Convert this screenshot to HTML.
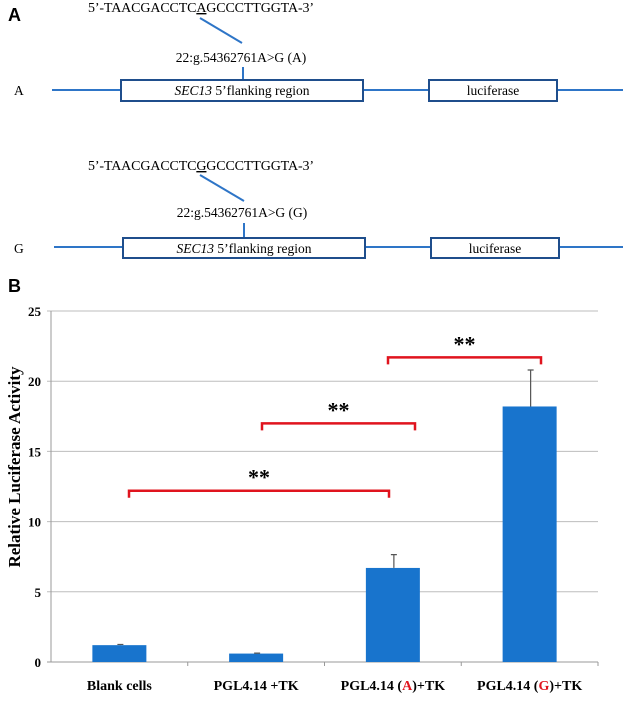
<!DOCTYPE html>
<html><head><meta charset="utf-8"><style>
body{margin:0;background:#fff;}
svg{display:block;font-family:"Liberation Serif",serif;}
</style></head><body>
<svg width="625" height="702" viewBox="0 0 625 702">
<g>
<text x="8" y="21" font-family="Liberation Sans,sans-serif" font-weight="bold" font-size="18">A</text>
<text x="88" y="12" font-size="14" textLength="226">5’-TAACGACCTC<tspan text-decoration="underline">A</tspan>GCCCTTGGTA-3’</text>
<line x1="200" y1="18" x2="242" y2="43" stroke="#2e75c7" stroke-width="2"/>
<text x="241" y="62" font-size="13.5" text-anchor="middle">22:g.54362761A&gt;G (A)</text>
<line x1="243" y1="67" x2="243" y2="80" stroke="#2e75c7" stroke-width="2"/>
<line x1="52" y1="90" x2="623" y2="90" stroke="#2e75c7" stroke-width="2"/>
<rect x="121" y="80" width="242" height="21" fill="#fff" stroke="#1f4e8c" stroke-width="2"/>
<text x="242" y="95" font-size="13.5" text-anchor="middle"><tspan font-style="italic">SEC13</tspan> 5’flanking region</text>
<rect x="429" y="80" width="128" height="21" fill="#fff" stroke="#1f4e8c" stroke-width="2"/>
<text x="493" y="95" font-size="13.5" text-anchor="middle">luciferase</text>
<text x="14" y="95" font-size="13.5">A</text>

<text x="88" y="170" font-size="14" textLength="226">5’-TAACGACCTC<tspan text-decoration="underline">G</tspan>GCCCTTGGTA-3’</text>
<line x1="200" y1="175" x2="244" y2="201" stroke="#2e75c7" stroke-width="2"/>
<text x="242" y="217" font-size="13.5" text-anchor="middle">22:g.54362761A&gt;G (G)</text>
<line x1="244" y1="223" x2="244" y2="238" stroke="#2e75c7" stroke-width="2"/>
<line x1="54" y1="247" x2="623" y2="247" stroke="#2e75c7" stroke-width="2"/>
<rect x="123" y="238" width="242" height="20" fill="#fff" stroke="#1f4e8c" stroke-width="2"/>
<text x="244" y="253" font-size="13.5" text-anchor="middle"><tspan font-style="italic">SEC13</tspan> 5’flanking region</text>
<rect x="431" y="238" width="128" height="20" fill="#fff" stroke="#1f4e8c" stroke-width="2"/>
<text x="495" y="253" font-size="13.5" text-anchor="middle">luciferase</text>
<text x="14" y="253" font-size="13.5">G</text>
</g>
<text x="8" y="292" font-family="Liberation Sans,sans-serif" font-weight="bold" font-size="18">B</text>
<g id="chart"></g>
</svg>
<script>
const categories=["Blank cells","PGL4.14 +TK","PGL4.14 (A)+TK","PGL4.14 (G)+TK"];
const values=[1.2,0.6,6.7,18.2];
const errors=[0.05,0.03,0.95,2.6];
const yTicks=[0,5,10,15,20,25];
const brackets=[[0,2,11.7,12.2],[1,2,16.5,17],[2,3,21.2,21.7]];
const NS="http://www.w3.org/2000/svg";
const g=document.getElementById('chart');
const X0=51,X1=598,Y0=662,Y25=311;
const y=v=>Y0-(Y0-Y25)*v/25;
const bw=(X1-X0)/categories.length;
const xc=i=>X0+bw*(i+0.5);
function mk(t,a){const e=document.createElementNS(NS,t);for(const k in a)e.setAttribute(k,a[k]);g.appendChild(e);return e;}
yTicks.forEach(t=>{
 const l=mk('line',{x1:X0-4,x2:X1,y1:y(t),y2:y(t),stroke:t===0?'#999':'#bdbdbd','stroke-width':1});
 
 
 const tx=mk('text',{x:41,y:y(t)+5,'text-anchor':'end','font-size':13,'font-weight':'bold'});
 tx.textContent=t;
 
 
});
const ax=mk('line',{x1:X0,x2:X0,y1:Y25,y2:Y0,stroke:'#999'});


for(let i=1;i<=categories.length;i++){
 const tk=mk('line',{x1:X0+bw*i,x2:X0+bw*i,y1:Y0,y2:Y0+4,stroke:'#999'});
 
 
}
categories.forEach((c,i)=>{
 const b=mk('rect',{x:xc(i)-27,y:y(values[i]),width:54,height:Y0-y(values[i]),fill:'#1874cd'});
 
 
 const top=values[i]+errors[i];
 const e=mk('path',{d:`M${xc(i)+1},${y(values[i])}V${y(top)}M${xc(i)-2},${y(top)}H${xc(i)+4}`,stroke:'#555','stroke-width':1.2,fill:'none'});
 
 
 const t=mk('text',{x:xc(i),y:690,'text-anchor':'middle','font-size':14,'font-weight':'bold'});
 const m=c.match(/^(.*\()([AG])(\).*)$/);
 if(m){t.innerHTML=m[1]+'<tspan fill="#e0141e">'+m[2]+'</tspan>'+m[3];}else t.textContent=c;
 
 
});
brackets.forEach((br,k)=>{
 const xa=k===0?129:k===1?262:388, xb=k===0?389:k===1?415:541;
 const p=mk('path',{d:`M${xa},${y(br[2])}V${y(br[3])}H${xb}V${y(br[2])}`,stroke:'#e0141e','stroke-width':2.5,fill:'none'});
 
 
 const s=mk('text',{x:(xa+xb)/2,y:y(br[3])-6,'text-anchor':'middle','font-size':22,'font-weight':'bold'});
 s.textContent='**';
 
 
});
const yt=mk('text',{x:0,y:0,transform:'translate(20,467) rotate(-90)','text-anchor':'middle','font-size':17,'font-weight':'bold'});
yt.textContent='Relative Luciferase Activity';


</script>
</body></html>
